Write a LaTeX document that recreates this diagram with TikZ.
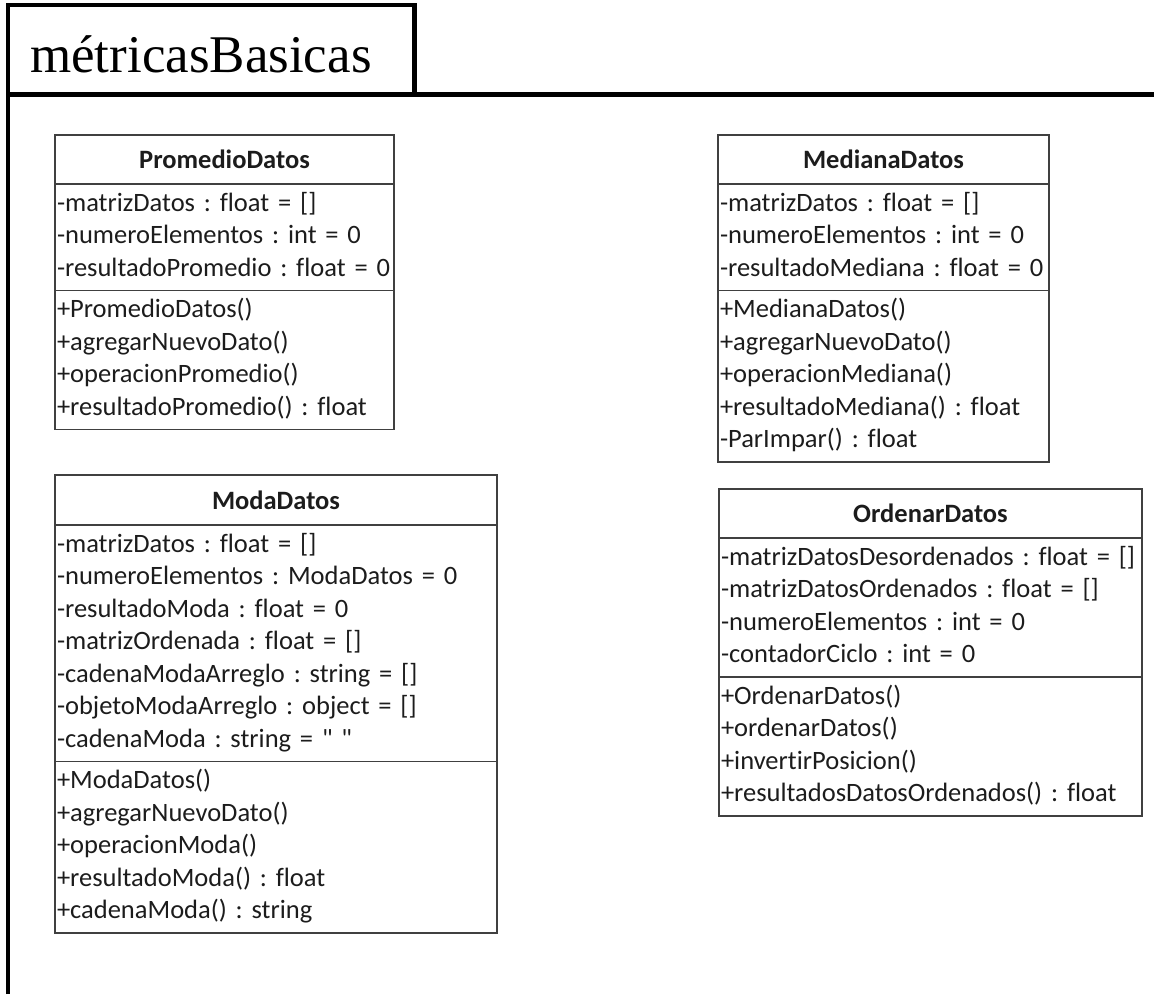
\documentclass[tikz,border=0pt]{standalone}
\usepackage{fontspec}
\setmainfont{Liberation Serif}
\newfontfamily\umlfont[Ligatures=NoCommon, WordSpace=0.8]{Carlito}
\usepackage{tikz}
\usetikzlibrary{positioning}
\definecolor{umlline}{RGB}{64,64,64}
\definecolor{umltext}{RGB}{28,28,28}
\frenchspacing

\tikzset{
  pkgline/.style={line width=4.5pt},
  clsname/.style={draw=umlline, line width=1.3pt, outer sep=0pt, inner sep=0pt,
    minimum height=49pt, anchor=north west, text=umltext,
    font=\umlfont\fontsize{26.5}{32.5}\selectfont\bfseries},
  clspart/.style={draw=umlline, line width=1.3pt, outer sep=0pt, inner xsep=2pt,
    inner ysep=4.5pt, align=left, text=umltext,
    font=\umlfont\fontsize{26.5}{32.5}\selectfont,
    execute at begin node=\strut, execute at end node=\strut},
}

\begin{document}
\begin{tikzpicture}[x=1pt,y=-1pt]
  \useasboundingbox (0,0) rectangle (1154,994);

  % package frame
  \draw[pkgline] (8,994) -- (8,5) -- (414.5,5) -- (414.5,94.5);
  \draw[pkgline] (8,94.5) -- (1154,94.5);
  \node[anchor=base west, inner sep=0pt, font=\fontsize{53}{60}\selectfont] (pkgname) at (30,72) {métricasBasicas};

  % PromedioDatos
  \node[clsname, minimum width=339pt] (promN) at (55,135) {PromedioDatos};
  \node[clspart, text width=335pt, below=0pt of promN] (promA) {-matrizDatos : float = []\\-numeroElementos : int = 0\\-resultadoPromedio : float = 0};
  \node[clspart, text width=335pt, below=0pt of promA] (promM) {+PromedioDatos()\\+agregarNuevoDato()\\+operacionPromedio()\\+resultadoPromedio() : float};

  % ModaDatos
  \node[clsname, minimum width=442pt, minimum height=50pt] (modaN) at (55,475) {ModaDatos};
  \node[clspart, text width=438pt, below=0pt of modaN] (modaA) {-matrizDatos : float = []\\-numeroElementos : ModaDatos = 0\\-resultadoModa : float = 0\\-matrizOrdenada : float = []\\-cadenaModaArreglo : string = []\\-objetoModaArreglo : object = []\\-cadenaModa : string = " "};
  \node[clspart, text width=438pt, below=0pt of modaA] (modaM) {+ModaDatos()\\+agregarNuevoDato()\\+operacionModa()\\+resultadoModa() : float\\+cadenaModa() : string};

  % MedianaDatos
  \node[clsname, minimum width=331pt] (medN) at (718,135) {MedianaDatos};
  \node[clspart, text width=327pt, below=0pt of medN] (medA) {-matrizDatos : float = []\\-numeroElementos : int = 0\\-resultadoMediana : float = 0};
  \node[clspart, text width=327pt, below=0pt of medA] (medM) {+MedianaDatos()\\+agregarNuevoDato()\\+operacionMediana()\\+resultadoMediana() : float\\-ParImpar() : float};

  % OrdenarDatos
  \node[clsname, minimum width=423pt] (ordN) at (719,489) {OrdenarDatos};
  \node[clspart, text width=419pt, below=0pt of ordN] (ordA) {-matrizDatosDesordenados : float = []\\-matrizDatosOrdenados : float = []\\-numeroElementos : int = 0\\-contadorCiclo : int = 0};
  \node[clspart, text width=419pt, below=0pt of ordA] (ordM) {+OrdenarDatos()\\+ordenarDatos()\\+invertirPosicion()\\+resultadosDatosOrdenados() : float};
\end{tikzpicture}
\end{document}
